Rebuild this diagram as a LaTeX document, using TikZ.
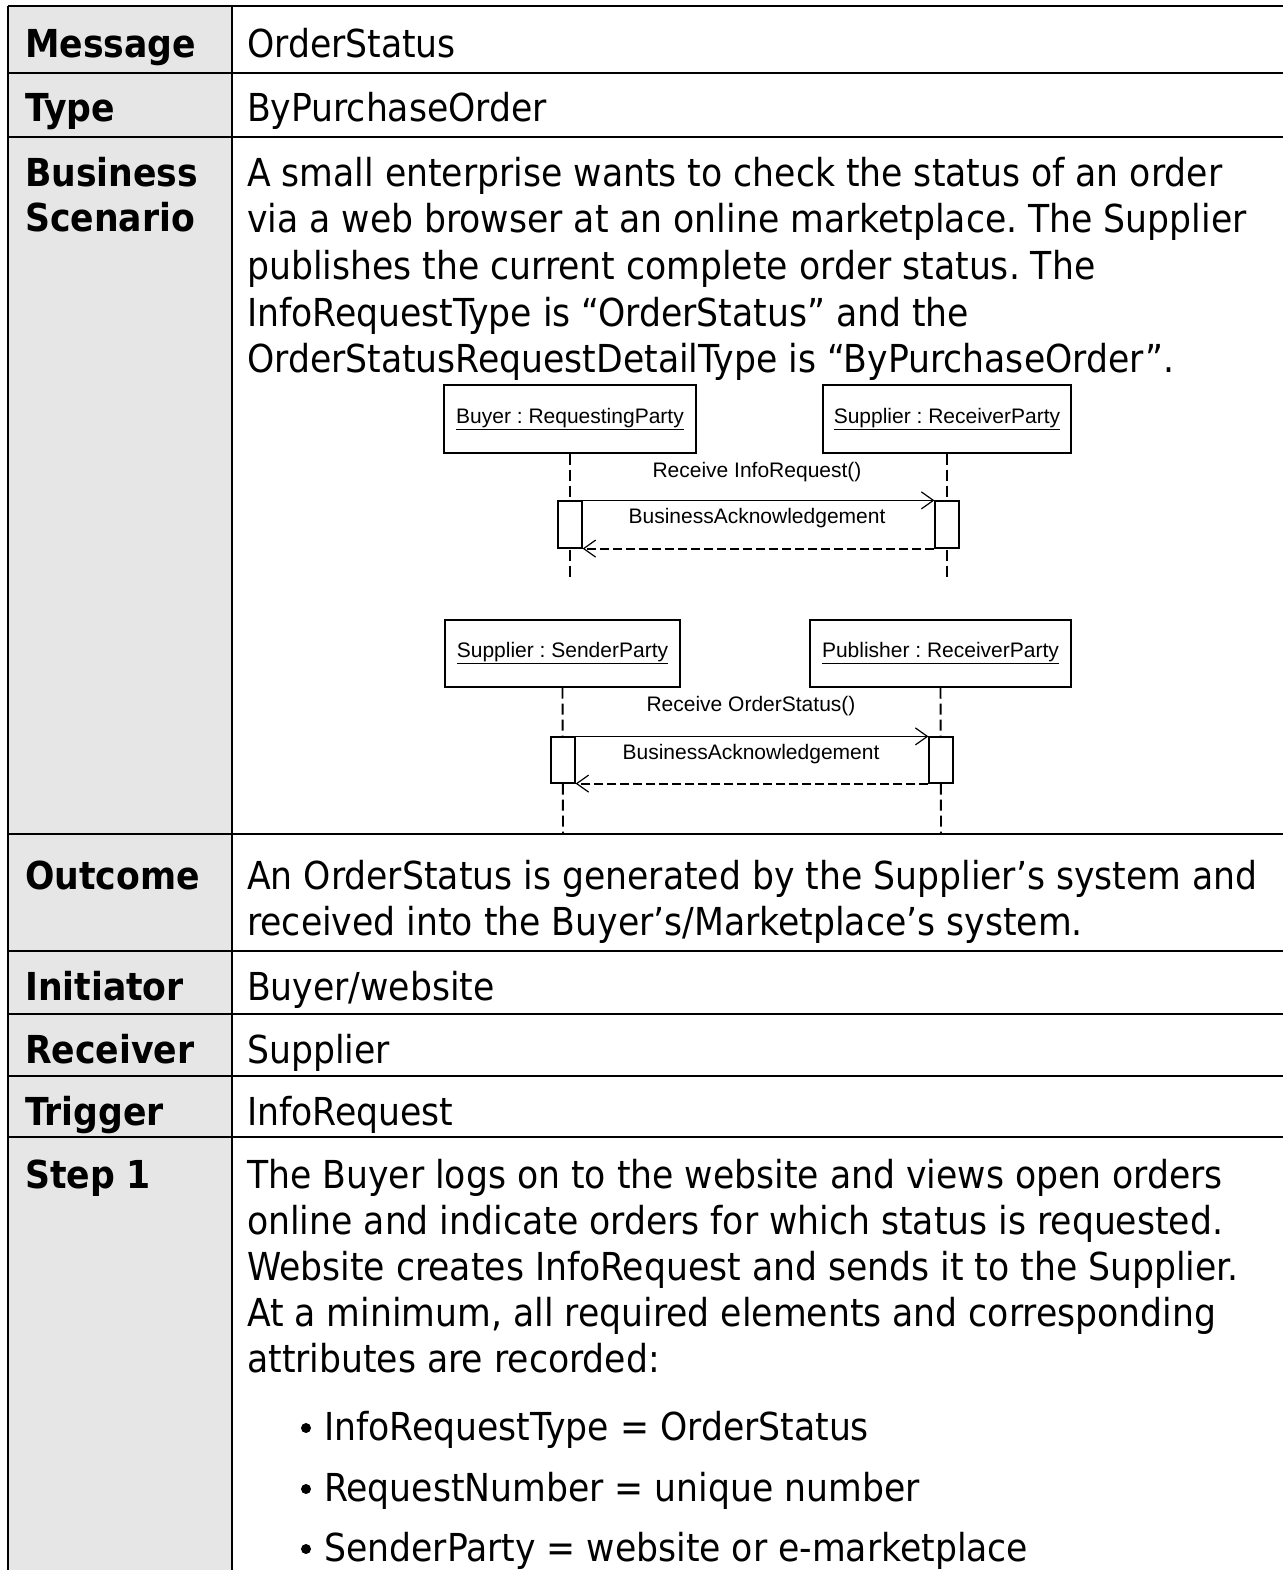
\documentclass[tikz,border=0pt]{standalone}
\usepackage{fontspec}
\newfontfamily\bodyfont{DejaVu Sans Condensed}
\newfontfamily\umlfont{Liberation Sans}
\usetikzlibrary{arrows.meta}
\definecolor{labelgray}{HTML}{E6E6E6}
\frenchspacing
\tikzset{
  lbl/.style={anchor=base west, inner sep=0pt, font=\bodyfont\bfseries\fontsize{38.5}{46}\selectfont\frenchspacing},
  txt/.style={anchor=base west, inner sep=0pt, font=\bodyfont\fontsize{38.5}{46}\selectfont\frenchspacing},
  bul/.style={circle, fill=black, inner sep=0pt, minimum size=10pt},
  rule/.style={line width=2.4pt, black},
  party/.style={draw, line width=1.2pt, fill=white, inner sep=0pt, font=\umlfont\fontsize{21}{25}\selectfont\frenchspacing},
  act/.style={draw, line width=1.2pt, fill=white, inner sep=0pt, minimum width=24pt, minimum height=47pt},
  life/.style={line width=1.9pt, dash pattern=on 11pt off 5pt},
  msg/.style={line width=1.2pt, -{Straight Barb[length=12pt,width=17pt,line width=1.2pt]}},
  ret/.style={line width=1.8pt, dash pattern=on 9pt off 4pt, -{Straight Barb[length=12pt,width=17pt,line width=1.2pt]}},
  mlabel/.style={inner sep=0pt, font=\umlfont\fontsize{21}{25}\selectfont\frenchspacing},
}
\begin{document}
\begin{tikzpicture}[x=1pt,y=-1pt]
\useasboundingbox (0,0) rectangle (1283,1570);
% label column background
\fill[labelgray] (8,6) rectangle (232,1570);
% grid
\draw[rule] (8,6) -- (1283,6);
\draw[rule] (8,6) -- (8,1570);
\draw[rule] (232,6) -- (232,1570);
\foreach \yy in {73,137,834,951,1014,1076,1137} {\draw[rule] (8,\yy) -- (1283,\yy);}

% labels
\node[lbl] (lMsg) at (25,58) {Message};
\node[lbl] (lType) at (25,122) {Type};
\node[lbl] (lBus1) at (25,187) {Business};
\node[lbl] (lBus2) at (25,232) {Scenario};
\node[lbl] (lOut) at (25,889) {Outcome};
\node[lbl] (lIni) at (25,1000) {Initiator};
\node[lbl] (lRec) at (25,1063) {Receiver};
\node[lbl] (lTrg) at (25,1125) {Trigger};
\node[lbl] (lStep) at (25,1188) {Step 1};

% values
\node[txt] (vMsg) at (247,58) {OrderStatus};
\node[txt] (vType) at (247,122) {ByPurchaseOrder};
\node[txt] (b1) at (247,187) {A small enterprise wants to check the status of an order};
\node[txt] (b2) at (247,233) {via a web browser at an online marketplace. The Supplier};
\node[txt] (b3) at (247,279) {publishes the current complete order status. The};
\node[txt] (b4) at (247,326) {InfoRequestType is “OrderStatus” and the};
\node[txt] (b5) at (247,372) {OrderStatusRequestDetailType is “ByPurchaseOrder”.};
\node[txt] (o1) at (247,889) {An OrderStatus is generated by the Supplier’s system and};
\node[txt] (o2) at (247,935) {received into the Buyer’s/Marketplace’s system.};
\node[txt] (vIni) at (247,1000) {Buyer/website};
\node[txt] (vRec) at (247,1063) {Supplier};
\node[txt] (vTrg) at (247,1125) {InfoRequest};
\node[txt] (s1) at (247,1188) {The Buyer logs on to the website and views open orders};
\node[txt] (s2) at (247,1234) {online and indicate orders for which status is requested.};
\node[txt] (s3) at (247,1280) {Website creates InfoRequest and sends it to the Supplier.};
\node[txt] (s4) at (247,1326) {At a minimum, all required elements and corresponding};
\node[txt] (s5) at (247,1372) {attributes are recorded:};
\node[bul] (d1) at (306,1428) {};
\node[txt] (t1) at (324,1440) {InfoRequestType = OrderStatus};
\node[bul] (d2) at (306,1489) {};
\node[txt] (t2) at (324,1501) {RequestNumber = unique number};
\node[bul] (d3) at (306,1549) {};
\node[txt] (t3) at (324,1561) {SenderParty = website or e-marketplace};

% sequence diagram 1
\node[party, minimum width=252pt, minimum height=68pt] (buyer) at (570,419) {\underline{Buyer : RequestingParty}};
\node[party, minimum width=248pt, minimum height=68pt] (supp) at (947,419) {\underline{Supplier : ReceiverParty}};
\coordinate (buyerEnd) at (570,578);
\coordinate (suppEnd) at (947,578);
\draw[life] (buyer.south) -- (buyerEnd);
\draw[life] (supp.south) -- (suppEnd);
\node[act] (a1) at (570,524.5) {};
\node[act] (a2) at (947,524.5) {};
\draw[msg] (a1.north east) -- (a2.north west);
\draw[ret] (a2.south west) -- (a1.south east);
\node[mlabel] (m1) at (757,472) {Receive InfoRequest()};
\node[mlabel] (m2) at (757,518) {BusinessAcknowledgement};

% sequence diagram 2
\node[party, minimum width=235pt, minimum height=67pt] (sender) at (562.5,653.5) {\underline{Supplier : SenderParty}};
\node[party, minimum width=261pt, minimum height=67pt] (pub) at (940.5,653.5) {\underline{Publisher : ReceiverParty}};
\coordinate (senderEnd) at (563,833);
\coordinate (pubEnd) at (941,833);
\draw[life] (sender.south) -- (senderEnd);
\draw[life] (pub.south) -- (pubEnd);
\node[act, minimum height=46pt] (a3) at (563,760) {};
\node[act, minimum height=46pt] (a4) at (941,760) {};
\draw[msg] (a3.north east) -- (a4.north west);
\draw[ret] (a4.south west) -- (a3.south east);
\node[mlabel] (m3) at (751,706) {Receive OrderStatus()};
\node[mlabel] (m4) at (751,754) {BusinessAcknowledgement};
\end{tikzpicture}
\end{document}
